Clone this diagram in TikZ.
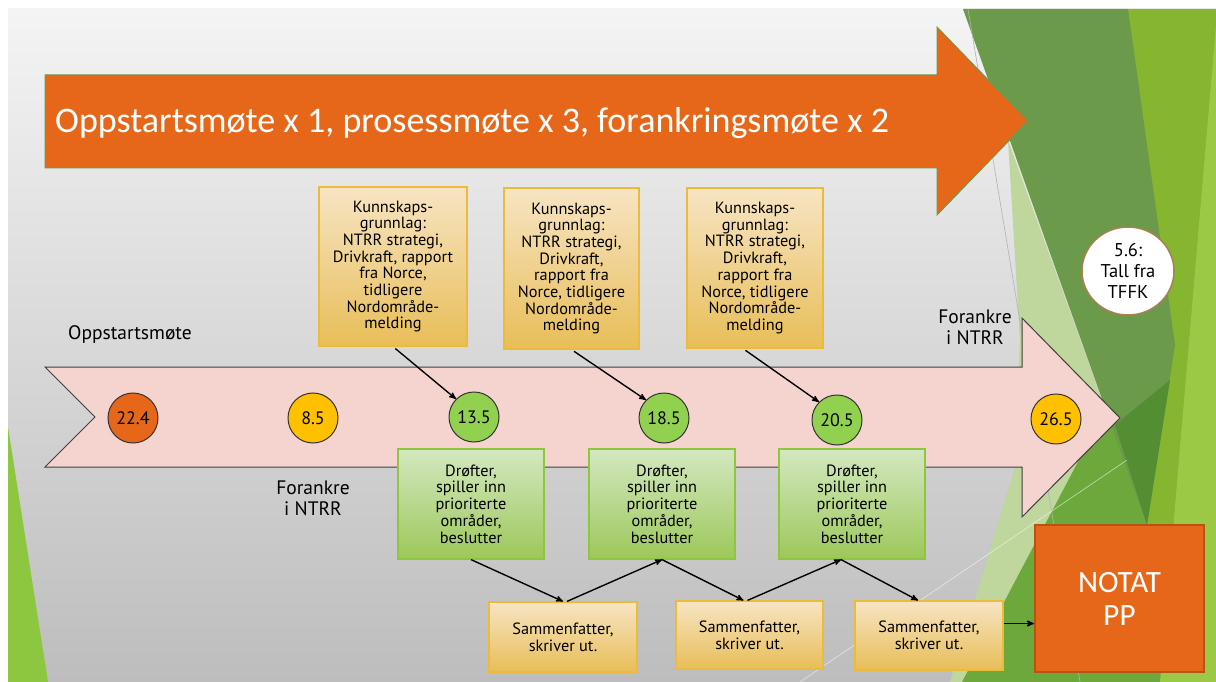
\documentclass[tikz,border=0pt]{standalone}
\usepackage{fontspec}
\setmainfont{PT Sans}
\newfontfamily\titlefont{Carlito}
\usetikzlibrary{positioning, arrows, shapes.geometric}
\definecolor{bgtop}{HTML}{F4F4F4}
\definecolor{bgbot}{HTML}{BDBDBD}
\definecolor{tangerine}{HTML}{E6671A}
\definecolor{rosa}{HTML}{F5D3CF}
\definecolor{gold}{HTML}{FFC000}
\definecolor{leaf}{HTML}{92D050}
\definecolor{sandtop}{HTML}{F7E4C3}
\definecolor{sandbot}{HTML}{E8BE58}
\definecolor{sandline}{HTML}{EDBB3A}
\definecolor{mosstop}{HTML}{D4E8C0}
\definecolor{mossbot}{HTML}{9CC85A}
\definecolor{mossline}{HTML}{8DC63F}
\definecolor{facetpale}{HTML}{BFD69C}
\definecolor{facetdark}{HTML}{6B9A4A}
\definecolor{facetdeep}{HTML}{548E33}
\definecolor{facetlime}{HTML}{86B530}
\definecolor{facetlight}{HTML}{9BC845}
\definecolor{facetgreen}{HTML}{6DA83D}
\tikzset{
>=stealth', % makes the arrow heads bold
every node/.style={inner sep=0pt}, % text sits tight in the nodes
box/.style={rectangle, align=center, line width=1.2pt, font=\fontsize{16.3}{16.7}\selectfont}, % common look of the boxes
kbox/.style={box, draw=sandline, top color=sandtop, bottom color=sandbot}, % yellow boxes
gbox/.style={box, draw=mossline, top color=mosstop, bottom color=mossbot, minimum width=146pt, minimum height=110pt}, % green boxes
dot/.style={circle, draw=black!80, line width=1pt, minimum size=50pt, font=\fontsize{18}{20}\selectfont}, % dates on the time line
lbl/.style={align=center, font=\fontsize{19.5}{21}\selectfont}, % loose labels
link/.style={->, line width=1.4pt}, % connectors
}

\begin{document}
\begin{tikzpicture}[x=1pt, y=-1pt]
\fill[white] (0,0) rectangle (1216,682);
\useasboundingbox (0,0) rectangle (1216,682);
% slide background
\shade[top color=bgtop, bottom color=bgbot] (8,9) rectangle (1216,682);
\fill[mossline] (8,427) -- (8,682) -- (48,682) -- cycle;
\fill[facetpale] (1008,140) -- (1147,525) -- (1000,682) -- (950,682) -- (1015,467) -- (1020,340) -- cycle;
\fill[facetgreen] (1100,420) -- (1216,380) -- (1216,682) -- (962,682) -- cycle;
\fill[facetlime] (1128,9) -- (1216,9) -- (1216,682) -- (1165,682) -- (1147,525) -- cycle;
\fill[facetlight] (1216,25) -- (1216,682) -- (1160,682) -- cycle;
\fill[facetdark] (963,9) -- (1128,9) -- (1175,345) -- (1147,525) -- cycle;
\fill[facetdeep] (1115,425) -- (1170,380) -- (1147,525) -- cycle;
\draw[gray!60, line width=0.6pt] (968,9) -- (1080,682);
\draw[white, opacity=0.6, line width=0.6pt] (800,682) -- (1127,460);

% big arrows
\filldraw[fill=tangerine, draw=facetdark, line width=1pt] (45,75) -- (937,75) -- (937,27) -- (1028,121) -- (937,215) -- (937,168) -- (45,168) -- cycle;
\node[anchor=base west, text=white, font=\titlefont\fontsize{36}{40}\selectfont] (title) at (55,133) {Oppstartsmøte x 1, prosessmøte x 3, forankringsmøte x 2};
\filldraw[fill=rosa, draw=black!75, line width=1pt] (45,367) -- (1022,367) -- (1022,318) -- (1120,418) -- (1022,517) -- (1022,467) -- (45,467) -- (95,417) -- cycle;

% dates
\node[dot, fill=tangerine] (c1) at (133,418) {22.4};
\node[dot, fill=gold] (c2) at (313,418) {8.5};
\node[dot, fill=leaf] (c3) at (474,417) {13.5};
\node[dot, fill=leaf] (c4) at (664,418) {18.5};
\node[dot, fill=leaf] (c5) at (837,420) {20.5};
\node[dot, fill=gold] (c6) at (1056,419) {26.5};

\node[lbl] (start) at (130,335) {Oppstartsmøte};
\node[lbl] (anchor1) at (313,498) {Forankre\\i NTRR};
\node[lbl] (anchor2) at (975,327) {Forankre\\i NTRR};

% knowledge boxes
\node[kbox, minimum width=148pt, minimum height=159pt] (k1) at (393,266.5) {Kunnskaps-\\grunnlag:\\NTRR strategi,\\Drivkraft, rapport\\fra Norce,\\tidligere\\Nordområde-\\melding};
\node[kbox, minimum width=135pt, minimum height=161pt] (k2) at (571.5,268.5) {Kunnskaps-\\grunnlag:\\NTRR strategi,\\Drivkraft,\\rapport fra\\Norce, tidligere\\Nordområde-\\melding};
\node[kbox, minimum width=136pt, minimum height=160pt] (k3) at (755,268) {Kunnskaps-\\grunnlag:\\NTRR strategi,\\Drivkraft,\\rapport fra\\Norce, tidligere\\Nordområde-\\melding};

% meetings
\node[gbox] (g1) at (471,504) {Drøfter,\\spiller inn\\prioriterte\\områder,\\beslutter};
\node[gbox] (g2) at (662,504) {Drøfter,\\spiller inn\\prioriterte\\områder,\\beslutter};
\node[gbox] (g3) at (852,504) {Drøfter,\\spiller inn\\prioriterte\\områder,\\beslutter};

\node[kbox, minimum width=148pt, minimum height=70pt] (s1) at (563,637) {Sammenfatter,\\skriver ut.};
\node[kbox, minimum width=147pt, minimum height=68pt] (s2) at (749.5,635) {Sammenfatter,\\skriver ut.};
\node[kbox, minimum width=148pt, minimum height=69pt] (s3) at (929,635.5) {Sammenfatter,\\skriver ut.};

\node[rectangle, fill=tangerine, draw=tangerine!80!black, line width=2pt, minimum width=169pt, minimum height=147pt, align=center, text=white, font=\titlefont\fontsize{31}{33}\selectfont] (notat) at (1119.5,598.5) {NOTAT\\PP};
\node[ellipse, fill=white, draw=brown!70!gray, line width=1.5pt, minimum width=92pt, minimum height=88pt, align=center, font=\fontsize{18.5}{21}\selectfont] (tall) at (1128,271) {5.6:\\Tall fra\\TFFK};

% connectors
\draw[link, shorten <=3pt] (k1.south) -- (c3.north west);
\draw[link, shorten <=3pt] (k2.south) -- (c4.north west);
\draw[link, shorten <=3pt] ([xshift=-12pt]k3.south) -- (c5.north west);
\draw[link] (g1.south) -- (s1.north);
\draw[link] ([xshift=4pt]s1.north) -- (g2.south);
\draw[link] (g2.south) -- ([xshift=-6pt]s2.north);
\draw[link] ([xshift=-2pt]s2.north) -- ([xshift=-11pt]g3.south);
\draw[link] ([xshift=-11pt]g3.south) -- ([xshift=-11pt]s3.north);
\draw[link] ([yshift=12pt]s3.east) -- ([yshift=12pt]s3.east -| notat.west);
\end{tikzpicture}
\end{document}
